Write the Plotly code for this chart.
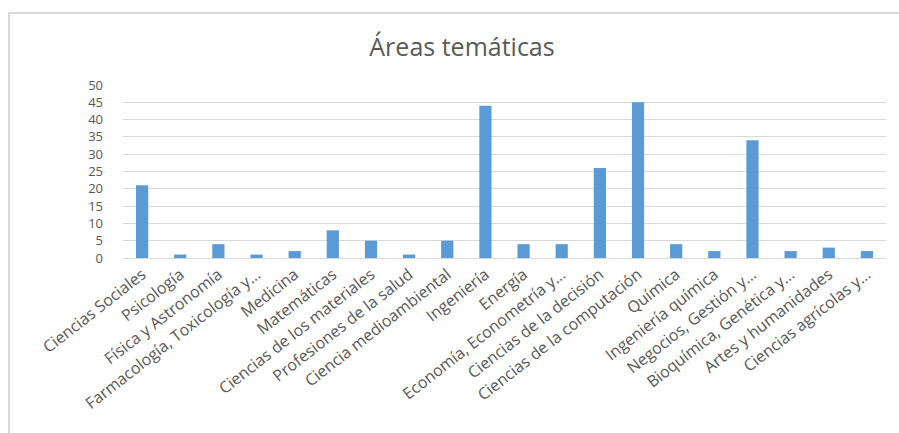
import plotly.graph_objects as go

# Subject areas and number of documents in each
areas = [
    "Ciencias Sociales", "Psicología", "Física y Astronomía",
    "Farmacología, Toxicología y…", "Medicina", "Matemáticas",
    "Ciencias de los materiales", "Profesiones de la salud",
    "Ciencia medioambiental", "Ingeniería", "Energía",
    "Economía, Econometría y…", "Ciencias de la decisión",
    "Ciencias de la computación", "Química", "Ingeniería química",
    "Negocios, Gestión y…", "Bioquímica, Genética y…",
    "Artes y humanidades", "Ciencias agrícolas y…",
]
documentos = [21, 1, 4, 1, 2, 8, 5, 1, 5, 44, 4, 4, 26, 45, 4, 2, 34, 2, 3, 2]
y_ticks = [0, 5, 10, 15, 20, 25, 30, 35, 40, 45, 50]

W, H = 899, 433
L, R, T, B = 123, 13, 85, 175
pw, ph = W - L - R, H - T - B

fig = go.Figure(
    go.Bar(
        x=areas,
        y=documentos,
        marker=dict(color="#5B9BD5", line=dict(width=0)),
    )
)

text_color = "#595959"
font_family = "Open Sans, Liberation Sans, sans-serif"

fig.update_layout(
    width=W,
    height=H,
    margin=dict(l=L, r=R, t=T, b=B, autoexpand=False),
    paper_bgcolor="white",
    plot_bgcolor="white",
    bargap=0.68,
    showlegend=False,
    title=dict(
        text="Áreas temáticas",
        x=462 / W,
        xanchor="center",
        y=1 - 47 / H,
        yanchor="middle",
        font=dict(family=font_family, size=25, color=text_color),
    ),
    font=dict(family=font_family, color=text_color),
)

fig.update_yaxes(
    range=[0, 50],
    tickvals=y_ticks,
    showgrid=True,
    gridcolor="#d9d9d9",
    gridwidth=1,
    zeroline=False,
    showline=False,
    ticks="",
    ticklabelstandoff=19,
    tickfont=dict(size=13, color=text_color),
)

fig.update_xaxes(
    showline=True,
    linecolor="#d9d9d9",
    linewidth=1,
    showgrid=False,
    ticks="",
    tickangle=-38,
    tickfont=dict(size=16, color=text_color),
    range=[-0.5, len(areas) - 0.5],
)

# Chart-area frame (top and left edges visible inside the page)
fig.add_shape(
    type="rect",
    xref="paper", yref="paper",
    x0=(9 - L) / pw, x1=(W + 10 - L) / pw,
    y0=(T + ph - (H + 10)) / ph, y1=(T + ph - 13) / ph,
    line=dict(color="#d9d9d9", width=2),
    fillcolor="rgba(0,0,0,0)",
    layer="below",
)

fig.write_html("out.html")
